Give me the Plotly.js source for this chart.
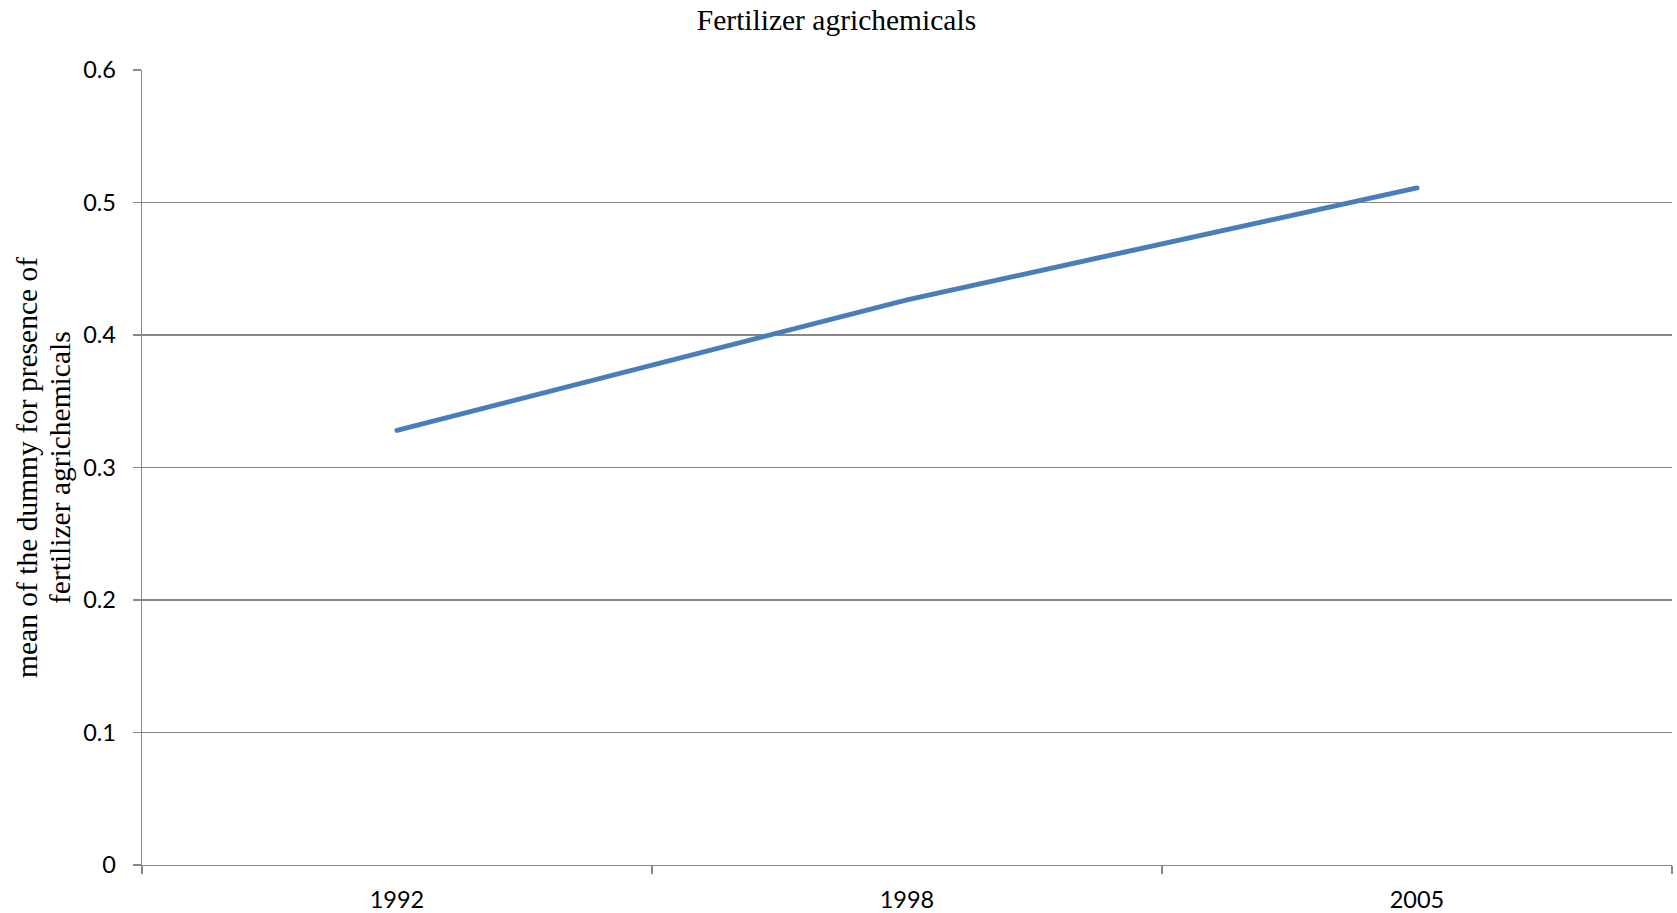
<!DOCTYPE html>
<html>
<head>
<meta charset="utf-8">
<script src="https://cdn.plot.ly/plotly-3.0.1.min.js"></script>
<style>
html,body{margin:0;padding:0;background:#fff;}
#chart{width:1677px;height:913px;}
.js-line{stroke-linecap:round;}
</style>
</head>
<body>
<div id="chart"></div>
<script>
const years = ['1992', '1998', '2005'];
const meanFertilizer = [0.328, 0.4265, 0.511];

const chartTitle = 'Fertilizer agrichemicals';
const yTitleLines = ['mean of the dummy for presence of', 'fertilizer agrichemicals'];

const trace = {
  x: years,
  y: meanFertilizer,
  type: 'scatter',
  mode: 'lines',
  line: {color: '#4A7EBB', width: 5},
  hoverinfo: 'x+y'
};

const axisGray = '#888888';
const serif = 'Liberation Serif, Times New Roman, serif';
const sans = 'Lato, Carlito, Calibri, sans-serif';

const layout = {
  width: 1677,
  height: 913,
  paper_bgcolor: '#ffffff',
  plot_bgcolor: '#ffffff',
  showlegend: false,
  margin: {l: 141.5, r: 5, t: 69.5, b: 48, pad: 0},
  title: {
    text: chartTitle,
    font: {family: serif, size: 29.5, color: '#000'},
    xref: 'container', x: 0.4988, xanchor: 'center',
    yref: 'container', y: 0.978, yanchor: 'middle'
  },
  xaxis: {
    type: 'category',
    range: [-0.5, 2.5],
    tickson: 'boundaries',
    ticks: 'outside',
    ticklen: 8,
    tickcolor: axisGray,
    tickwidth: 1.3,
    showline: true,
    linecolor: axisGray,
    linewidth: 1.3,
    showgrid: false,
    zeroline: false,
    tickfont: {family: sans, size: 23.5, color: '#000'},
    ticklabelstandoff: 13,
    fixedrange: true
  },
  yaxis: {
    range: [0, 0.6],
    dtick: 0.1,
    tick0: 0,
    ticks: 'outside',
    ticklen: 8,
    tickcolor: axisGray,
    tickwidth: 1.3,
    showline: true,
    linecolor: axisGray,
    linewidth: 1.3,
    showgrid: true,
    gridcolor: axisGray,
    gridwidth: 1.2,
    zeroline: false,
    tickfont: {family: sans, size: 23.5, color: '#000'},
    ticklabelstandoff: 12,
    fixedrange: true
  },
  annotations: [
    {
      text: yTitleLines[0],
      xref: 'paper', yref: 'paper',
      x: -0.0755, y: 0.5,
      xanchor: 'center', yanchor: 'middle',
      textangle: -90, showarrow: false,
      font: {family: serif, size: 29.5, color: '#000'}
    },
    {
      text: yTitleLines[1],
      xref: 'paper', yref: 'paper',
      x: -0.0539, y: 0.5,
      xanchor: 'center', yanchor: 'middle',
      textangle: -90, showarrow: false,
      font: {family: serif, size: 29.5, color: '#000'}
    }
  ]
};

Plotly.newPlot('chart', [trace], layout, {displayModeBar: false, staticPlot: true});
</script>
</body>
</html>
